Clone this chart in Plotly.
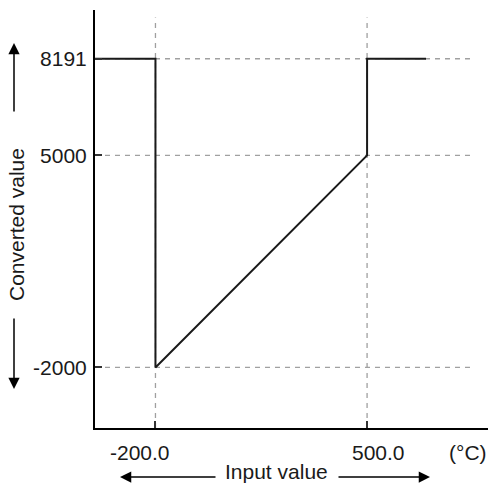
import plotly.graph_objects as go

# ---- data ----
input_x = [-400, -200, -200, 500, 500, 695]
converted_y = [8191, 8191, -2000, 5000, 8191, 8191]

x_tick_vals = [-200, 500]
x_tick_text = ["-200.0", "500.0"]
y_tick_vals = [-2000, 5000, 8191]
y_tick_text = ["-2000", "5000", "8191"]

x_range = [-400, 900]
y_range = [-4000, 9800]

FONT = "Liberation Sans, Arial, Helvetica, sans-serif"
W, H = 488, 484
ML, MR, MT, MB = 95, 0, 10, 56
PW, PH = W - ML - MR, H - MT - MB


def px(xp):
    return (xp - ML) / PW


def py(yp):
    return (H - MB - yp) / PH


fig = go.Figure()
fig.add_trace(go.Scatter(x=input_x, y=converted_y, mode="lines",
                         line=dict(color="#1a1a1a", width=2),
                         hoverinfo="skip", showlegend=False))

shapes = []
dash_style = dict(color="#a0a0a0", width=1.3, dash="5px,5px")
for xv in x_tick_vals:
    shapes.append(dict(type="line", xref="x", yref="y", x0=xv, x1=xv,
                       y0=y_range[0], y1=9550, line=dash_style, layer="below"))
for yv in y_tick_vals:
    shapes.append(dict(type="line", xref="x", yref="y", x0=x_range[0], x1=850,
                       y0=yv, y1=yv, line=dash_style, layer="below"))

FS = 21
annotations = []
# x tick labels (offset from ticks as in the drawing)
x_label_shift = [-15, 11]
for xv, txt, sh in zip(x_tick_vals, x_tick_text, x_label_shift):
    annotations.append(dict(x=xv, y=py(452), xref="x", yref="paper", text=txt,
                            showarrow=False, xanchor="center", yanchor="middle",
                            xshift=sh, font=dict(size=FS, color="#1a1a1a", family=FONT)))
annotations.append(dict(x=px(468), y=py(452), xref="paper", yref="paper", text="(°C)",
                        showarrow=False, xanchor="center", yanchor="middle",
                        font=dict(size=FS, color="#1a1a1a", family=FONT)))
annotations.append(dict(x=px(276), y=py(472), xref="paper", yref="paper", text="Input value",
                        showarrow=False, xanchor="center", yanchor="middle",
                        font=dict(size=FS, color="#1a1a1a", family=FONT)))
annotations.append(dict(x=px(17), y=py(225), xref="paper", yref="paper", text="Converted value",
                        showarrow=False, xanchor="center", yanchor="middle", textangle=-90,
                        font=dict(size=FS, color="#1a1a1a", family=FONT)))

arrow_common = dict(text="", showarrow=True, arrowhead=2, arrowsize=1.5, arrowwidth=1.5,
                    arrowcolor="black", xref="paper", yref="paper", axref="pixel",
                    ayref="pixel", standoff=0, startstandoff=0)
# horizontal arrows
annotations.append(dict(x=px(120), y=py(477), ax=97, ay=0, **arrow_common))
annotations.append(dict(x=px(430), y=py(477), ax=-93, ay=0, **arrow_common))
# vertical arrows
annotations.append(dict(x=px(14), y=py(43), ax=0, ay=70, **arrow_common))
annotations.append(dict(x=px(14), y=py(389), ax=0, ay=-72, **arrow_common))

fig.update_layout(
    width=W, height=H,
    margin=dict(l=ML, r=MR, t=MT, b=MB, pad=0),
    paper_bgcolor="white", plot_bgcolor="white",
    showlegend=False,
    shapes=shapes, annotations=annotations,
    font=dict(family=FONT, size=FS, color="#1a1a1a"),
    xaxis=dict(range=x_range, showgrid=False, zeroline=False, showline=True,
               linecolor="black", linewidth=2, ticks="inside", ticklen=7,
               tickwidth=2, tickcolor="#333", tickvals=x_tick_vals,
               showticklabels=False, fixedrange=True),
    yaxis=dict(range=y_range, showgrid=False, zeroline=False, showline=True,
               linecolor="black", linewidth=2, ticks="inside", ticklen=7,
               tickwidth=2, tickcolor="#333", tickvals=y_tick_vals,
               ticktext=y_tick_text, tickfont=dict(size=FS, family=FONT, color="#1a1a1a"),
               ticklabelstandoff=2, fixedrange=True),
)

fig.write_html("out.html", config={"displayModeBar": False})
